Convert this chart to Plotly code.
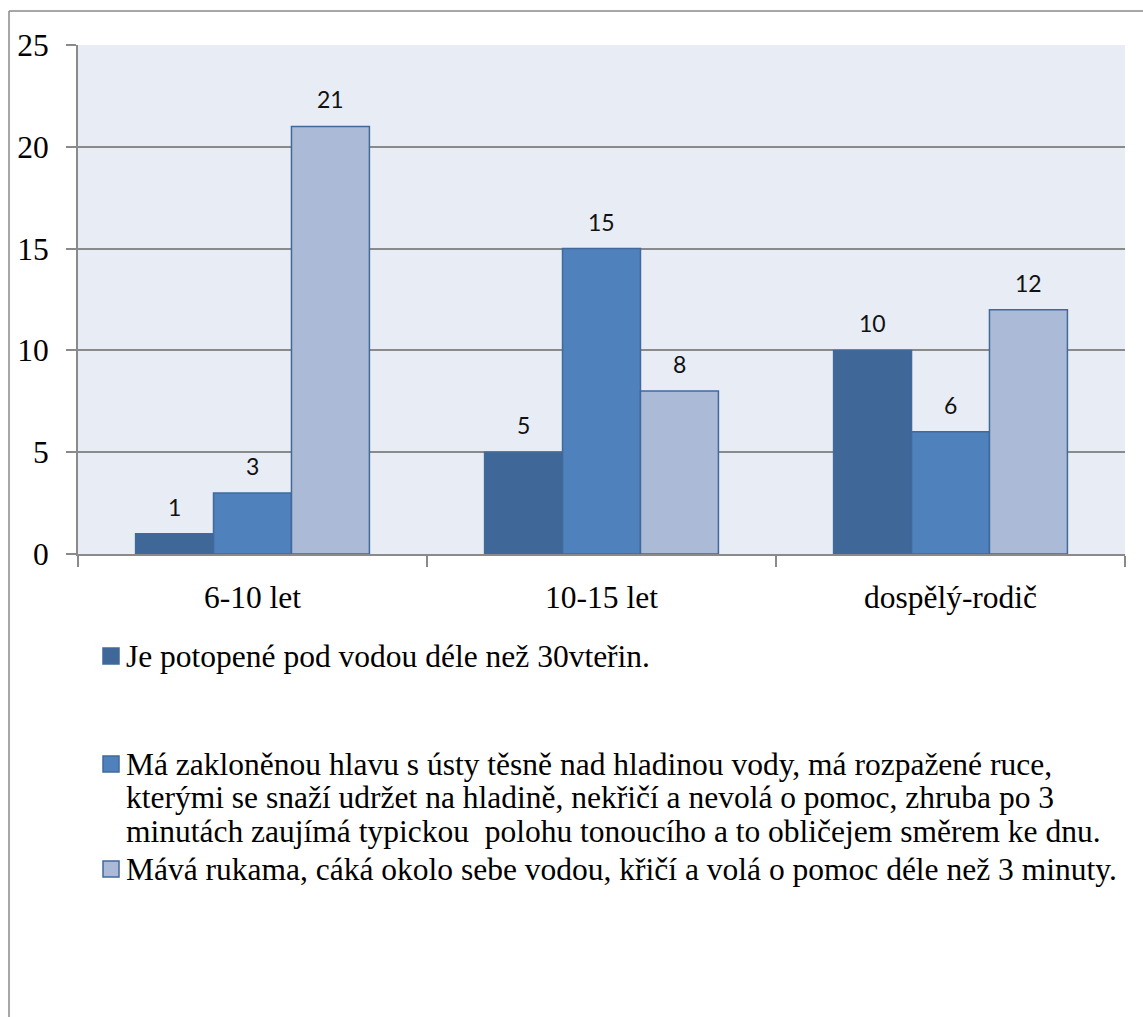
import plotly.graph_objects as go

# Age groups on the category axis
categories = ["6-10 let", "10-15 let", "dospělý-rodič"]

# Series names (legend text, one list entry per line) and their counts per age group
series_names = [
    ["Je potopené pod vodou déle než 30vteřin."],
    ["Má zakloněnou hlavu s ústy těsně nad hladinou vody, má rozpažené ruce,",
     "kterými se snaží udržet na hladině, nekřičí a nevolá o pomoc, zhruba po 3",
     "minutách zaujímá typickou  polohu tonoucího a to obličejem směrem ke dnu."],
    ["Mává rukama, cáká okolo sebe vodou, křičí a volá o pomoc déle než 3 minuty."],
]
values_submerged = [1, 5, 10]
values_head_back = [3, 15, 6]
values_waving = [21, 8, 12]
series_values = [values_submerged, values_head_back, values_waving]

y_ticks = [0, 5, 10, 15, 20, 25]

colors = ["#3F6899", "#4F81BD", "#AABAD7"]
edge = "#41699B"
grid = "#8A8A8A"
SERIF = "Times New Roman"
SANS = "Lato"

W, H = 1143, 1017
L, R, T, B = 78, 18, 45, 463
pw, ph = W - L - R, H - T - B


def px_x(p):
    return (p - L) / pw


def px_y(p):
    return (H - B - p) / ph


fig = go.Figure()
for lines, vals, col in zip(series_names, series_values, colors):
    fig.add_trace(go.Bar(
        x=categories, y=vals, name=" ".join(lines),
        marker=dict(color=col, line=dict(color=edge, width=1.5)),
        showlegend=False,
    ))

# Value labels above each bar
bar_px = pw / 3 * (1 - 0.33) / 3
for i, vals in enumerate(series_values):
    for cat, v in zip(categories, vals):
        fig.add_annotation(
            x=cat, y=v, xref="x", yref="y", text=str(v), showarrow=False,
            xshift=(i - 1) * bar_px, yshift=27, yanchor="middle",
            font=dict(family=SANS, size=23, color="#111"),
        )

# Legend drawn as swatches with text lines
legend_rows = [656, 764, 869]
line_step = 33.5
for lines, col, yc in zip(series_names, colors, legend_rows):
    fig.add_shape(
        type="rect", xref="paper", yref="paper",
        x0=px_x(103), x1=px_x(119), y0=px_y(yc - 8), y1=px_y(yc + 8),
        fillcolor=col, line=dict(color=edge, width=1.5),
    )
    for k, txt in enumerate(lines):
        fig.add_annotation(
            xref="paper", yref="paper", x=px_x(124), y=px_y(yc + k * line_step),
            xanchor="left", yanchor="middle", align="left", showarrow=False,
            text=txt, font=dict(family=SERIF, size=31.5, color="#000"),
        )

# Outer frame
fig.add_shape(type="line", xref="paper", yref="paper",
              x0=px_x(9), x1=px_x(9), y0=px_y(11), y1=px_y(1020),
              line=dict(color=grid, width=1.5))
fig.add_shape(type="line", xref="paper", yref="paper",
              x0=px_x(9), x1=px_x(1145), y0=px_y(11), y1=px_y(11),
              line=dict(color=grid, width=1.5))

fig.update_layout(
    width=W, height=H,
    margin=dict(l=L, r=R, t=T, b=B),
    paper_bgcolor="white", plot_bgcolor="#E7ECF5",
    barmode="group", bargap=0.33, bargroupgap=0,
    font=dict(family=SERIF, color="#000"),
)
fig.update_xaxes(
    type="category", showline=True, linecolor=grid, linewidth=2,
    ticks="outside", tickson="boundaries", ticklen=11, tickcolor=grid, tickwidth=2,
    tickfont=dict(family=SERIF, size=31.5), ticklabelstandoff=14,
    showgrid=False,
)
fig.update_yaxes(
    range=[0, 25], tickvals=y_ticks, showline=True, linecolor=grid, linewidth=2,
    ticks="outside", ticklen=10, tickcolor=grid, tickwidth=2,
    tickfont=dict(family=SERIF, size=31.5), ticklabelstandoff=11,
    showgrid=True, gridcolor=grid, gridwidth=2, zeroline=False,
)

fig.write_html("out.html")
